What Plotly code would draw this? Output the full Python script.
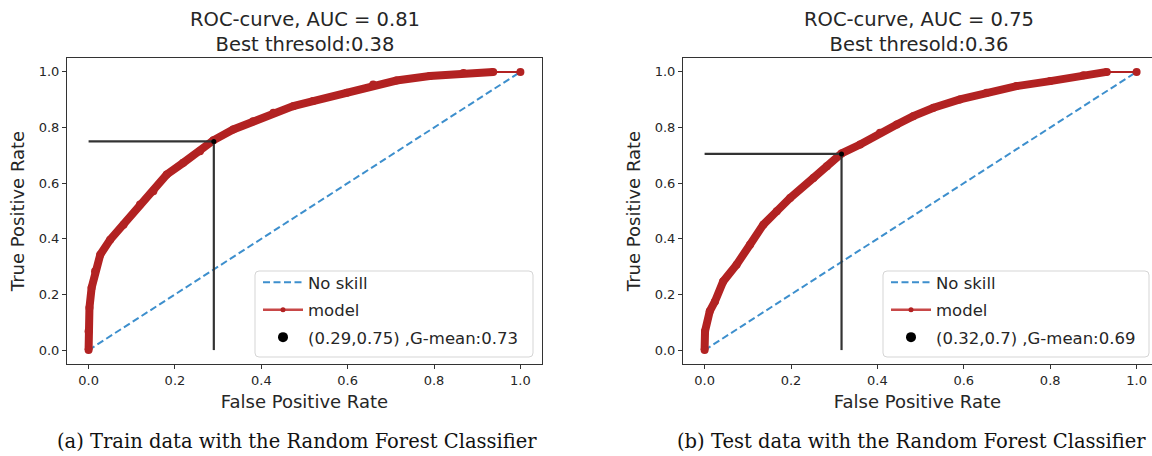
import plotly.graph_objects as go

# ---- data ----
train_fpr = [0.0, 0.0, 0.002, 0.007, 0.015, 0.027, 0.050, 0.081, 0.119, 0.150, 0.181, 0.219,
             0.258, 0.289, 0.335, 0.381, 0.428, 0.474, 0.520, 0.598, 0.659, 0.713, 0.790,
             0.868, 0.937, 1.0]
train_tpr = [0.0, 0.068, 0.152, 0.224, 0.283, 0.343, 0.397, 0.451, 0.523, 0.571, 0.631, 0.673,
             0.715, 0.754, 0.793, 0.823, 0.853, 0.877, 0.895, 0.925, 0.955, 0.969, 0.985,
             0.996, 1.0, 1.0]
test_fpr = [0.0, 0.001, 0.012, 0.024, 0.043, 0.074, 0.105, 0.136, 0.167, 0.198, 0.252, 0.283,
            0.317, 0.360, 0.406, 0.445, 0.483, 0.530, 0.591, 0.653, 0.722, 0.800, 0.877,
            0.931, 1.0]
test_tpr = [0.0, 0.068, 0.140, 0.175, 0.247, 0.307, 0.379, 0.451, 0.499, 0.547, 0.619, 0.661,
            0.707, 0.739, 0.781, 0.811, 0.841, 0.871, 0.901, 0.925, 0.949, 0.967, 0.988,
            1.0, 1.0]
no_skill = [0.0, 1.0]
best_train = (0.29, 0.75)
best_test = (0.317, 0.705)
titles = ["ROC-curve, AUC = 0.81<br>Best thresold:0.38", "ROC-curve, AUC = 0.75<br>Best thresold:0.36"]
best_labels = ["(0.29,0.75) ,G-mean:0.73", "(0.32,0.7) ,G-mean:0.69"]
captions = ["(a) Train data with the Random Forest Classifier", "(b) Test data with the Random Forest Classifier"]
tick_vals = [0.0, 0.2, 0.4, 0.6, 0.8, 1.0]
tick_text = ["0.0", "0.2", "0.4", "0.6", "0.8", "1.0"]

W, H = 1152, 456
RED = "#b22222"
BLUE = "#3d8fcd"
TXT = "#262626"
FONT = "DejaVu Sans"

fig = go.Figure()

# pixel boxes of the two axes
boxes = [(67, 542), (683, 1152)]
xranges = [[-0.05, 1.05], [-0.05, (1152 - 704.6) / 432.0]]
ytop, ybot = 58, 364
# legend frames (pixels): left, right, top, bottom
leg_frames = [(255, 533, 271, 357), (883, 1149, 271, 357)]

datasets = [(train_fpr, train_tpr, best_train), (test_fpr, test_tpr, best_test)]


def rounded_path(x0, x1, y0, y1, r=4):
    px = lambda v: v / W
    py = lambda v: 1 - v / H
    return (f"M{px(x0 + r)},{py(y0)} H{px(x1 - r)} Q{px(x1)},{py(y0)} {px(x1)},{py(y0 + r)} "
            f"V{py(y1 - r)} Q{px(x1)},{py(y1)} {px(x1 - r)},{py(y1)} H{px(x0 + r)} "
            f"Q{px(x0)},{py(y1)} {px(x0)},{py(y1 - r)} V{py(y0 + r)} Q{px(x0)},{py(y0)} {px(x0 + r)},{py(y0)} Z")


for i, ((fpr, tpr, best), (x0, x1)) in enumerate(zip(datasets, boxes)):
    sfx = "" if i == 0 else "2"
    xa, ya = "x" + sfx, "y" + sfx
    leg = "legend" if i == 0 else "legend2"
    # no skill
    fig.add_trace(go.Scatter(x=no_skill, y=no_skill, mode="lines", xaxis=xa, yaxis=ya,
                             line=dict(color=BLUE, width=2, dash="7px,3.5px"),
                             name="No skill", legend=leg, legendgroup="a" + sfx))
    # thick band of the model curve
    fig.add_trace(go.Scatter(x=fpr[:-1], y=tpr[:-1], mode="lines", xaxis=xa, yaxis=ya,
                             line=dict(color=RED, width=8), showlegend=False, hoverinfo="skip"))
    fig.add_trace(go.Scatter(x=fpr, y=tpr, mode="lines+markers", xaxis=xa, yaxis=ya,
                             line=dict(color=RED, width=2), marker=dict(size=8, color=RED),
                             showlegend=False))
    # legend entry for model
    fig.add_trace(go.Scatter(x=[None], y=[None], mode="lines+markers", xaxis=xa, yaxis=ya,
                             line=dict(color="#c84848", width=2.5), marker=dict(size=5, color=RED),
                             name="model", legend=leg, legendgroup="b" + sfx))
    # best-threshold guide lines
    fig.add_trace(go.Scatter(x=[0, best[0]], y=[best[1], best[1]], mode="lines", xaxis=xa, yaxis=ya,
                             line=dict(color="#333333", width=2.2), showlegend=False, hoverinfo="skip"))
    fig.add_trace(go.Scatter(x=[best[0], best[0]], y=[0, best[1]], mode="lines", xaxis=xa, yaxis=ya,
                             line=dict(color="#333333", width=2.2), showlegend=False, hoverinfo="skip"))
    fig.add_trace(go.Scatter(x=[best[0]], y=[best[1]], mode="markers", xaxis=xa, yaxis=ya,
                             marker=dict(size=5, color="black"), showlegend=False))
    fig.add_trace(go.Scatter(x=[None], y=[None], mode="markers", xaxis=xa, yaxis=ya,
                             marker=dict(size=10, color="black"),
                             name=best_labels[i], legend=leg, legendgroup="c" + sfx))

    axis_common = dict(showline=True, linecolor="#333333", linewidth=1, mirror=True,
                       ticks="outside", ticklen=4, tickwidth=1, tickcolor="#333333",
                       showgrid=False, zeroline=False,
                       tickfont=dict(family=FONT, size=13, color=TXT),
                       tickvals=tick_vals, ticktext=tick_text)
    fig.update_layout(**{
        "xaxis" + sfx: dict(domain=[x0 / W, x1 / W], range=xranges[i], anchor=ya,
                            title=dict(text="False Positive Rate", standoff=8,
                                       font=dict(family=FONT, size=18, color=TXT)),
                            **axis_common),
        "yaxis" + sfx: dict(domain=[1 - ybot / H, 1 - ytop / H], range=[-0.05, 1.05], anchor=xa,
                            title=dict(text="True Positive Rate", standoff=9,
                                       font=dict(family=FONT, size=18, color=TXT)),
                            **axis_common),
    })
    fig.add_annotation(text=titles[i], x=(x0 + (542 if i == 0 else 1155)) / 2 / W, y=1 - 5.5 / H,
                       xref="paper", yref="paper", xanchor="center", yanchor="top",
                       showarrow=False, font=dict(family=FONT, size=19.5, color=TXT))
    fig.add_annotation(text=captions[i], x=(297 if i == 0 else 911) / W, y=1 - 441 / H,
                       xref="paper", yref="paper", xanchor="center", yanchor="middle",
                       showarrow=False, font=dict(family="DejaVu Serif", size=19.5, color="#111111"))
    lx0, lx1, ly0, ly1 = leg_frames[i]
    fig.add_shape(type="path", path=rounded_path(lx0, lx1, ly0, ly1), xref="paper", yref="paper",
                  fillcolor="rgba(255,255,255,0.85)", line=dict(color="#d5d5d5", width=1), layer="above")

leg_common = dict(bgcolor="rgba(0,0,0,0)", borderwidth=0,
                  font=dict(family=FONT, size=16.5, color=TXT), traceorder="grouped",
                  tracegroupgap=3, xanchor="left", yanchor="top", itemwidth=40)
fig.update_layout(
    width=W, height=H, margin=dict(l=0, r=0, t=0, b=0),
    paper_bgcolor="white", plot_bgcolor="white", showlegend=True,
    legend=dict(x=258 / W, y=1 - 265 / H, **leg_common),
    legend2=dict(x=886 / W, y=1 - 265 / H, **leg_common),
)

fig.write_html("out.html")
